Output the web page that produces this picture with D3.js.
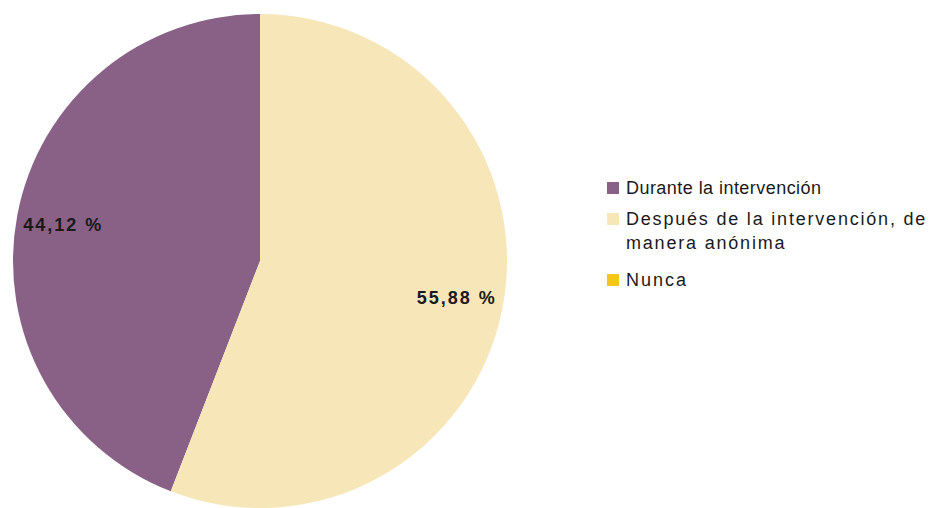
<!DOCTYPE html>
<html>
<head>
<meta charset="utf-8">
<script src="https://cdn.jsdelivr.net/npm/d3@7"></script>
<style>
  html, body { margin: 0; padding: 0; background: #fff; }
  svg { display: block; font-family: "Liberation Sans", Arial, sans-serif; }
</style>
</head>
<body>
<svg id="chart" width="934" height="508"></svg>
<script>
// Moment chosen for answering, share of respondents (%)
const categories = ["Durante la intervención", "Después de la intervención, de manera anónima", "Nunca"];
const legendLines = [["Durante la intervención"], ["Después de la intervención, de", "manera anónima"], ["Nunca"]];
const values = [44.12, 55.88, 0];
const colors = ["#896187", "#f6e6b8", "#f4c619"];

const svg = d3.select("#chart");
const cx = 260, cy = 261, radius = 247;

const data = categories.map((c, i) => ({ name: c, value: values[i], color: colors[i], lines: legendLines[i] }));

// Slices run counter-clockwise from 12 o'clock
const pie = d3.pie()
  .sort(null)
  .value(d => d.value)
  .startAngle(0)
  .endAngle(-2 * Math.PI);

const arcs = pie(data);
const arc = d3.arc().innerRadius(0).outerRadius(radius);
const labelArc = d3.arc().innerRadius(radius * 0.81).outerRadius(radius * 0.81);

const g = svg.append("g").attr("transform", `translate(${cx},${cy})`);

g.selectAll("path.slice")
  .data(arcs.filter(d => d.data.value > 0))
  .join("path")
  .attr("class", "slice")
  .attr("d", arc)
  .attr("fill", d => d.data.color);

const fmt = v => d3.format(".2f")(v).replace(".", ",") + " %";

g.selectAll("text.value")
  .data(arcs.filter(d => d.data.value > 0))
  .join("text")
  .attr("class", "value")
  .attr("transform", d => `translate(${labelArc.centroid(d)})`)
  .attr("text-anchor", "middle")
  .attr("dy", "0.36em")
  .attr("font-size", 18)
  .attr("font-weight", "bold")
  .attr("letter-spacing", 2)
  .attr("fill", "#1a1a1a")
  .text(d => fmt(d.data.value));

// Legend
const legendX = 607;
const rowY = [188, 219, 280];
const rowSpacing = [0.45, 1.8, 2];
const lg = svg.append("g");
const rows = lg.selectAll("g.row")
  .data(data)
  .join("g")
  .attr("class", "row")
  .attr("transform", (d, i) => `translate(${legendX},${rowY[i]})`);

rows.append("rect")
  .attr("x", 0).attr("y", -6)
  .attr("width", 12).attr("height", 12)
  .attr("fill", d => d.color);

rows.append("text")
  .attr("x", 19)
  .attr("font-size", 18)
  .attr("letter-spacing", (d, i) => rowSpacing[i])
  .attr("fill", "#1a1a1a")
  .selectAll("tspan")
  .data(d => d.lines)
  .join("tspan")
  .attr("x", 19)
  .attr("y", (t, i) => i * 24)
  .attr("dy", "0.36em")
  .text(t => t);
</script>
</body>
</html>
